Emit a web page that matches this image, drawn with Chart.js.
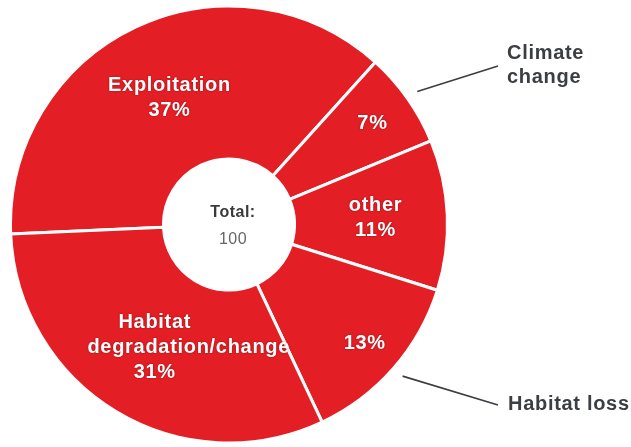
<!DOCTYPE html>
<html>
<head>
<meta charset="utf-8">
<script src="https://cdn.jsdelivr.net/npm/chart.js@4"></script>
<style>
  html, body { margin: 0; padding: 0; background: #fff; }
  #wrap { width: 631px; height: 447px; }
</style>
</head>
<body>
<div id="wrap"><canvas id="threatsChart"></canvas></div>
<script>
// Threat shares (percent)
const categories = ['Exploitation', 'Climate change', 'other', 'Habitat loss', 'Habitat degradation/change'];
const shares = [37, 7, 11, 13, 31];
const totalLabel = 'Total:';
const totalValue = 100;

// names written inside the slices (the percent line gets added below them)
const insideNames = [['Exploitation'], [], ['other'], [], ['Habitat', 'degradation/change']];
// names written outside, with a pointer line
const outsideNames = { 1: ['Climate', 'change'], 3: ['Habitat loss'] };

const RED = '#e41e25';
const DARK = '#3b3e42';
const LABEL_FONT = 'bold 20px "Liberation Sans", Arial, sans-serif';

// where the inside label sits between inner and outer radius (0..1)
const ringPos = [0.485, 0.72, 0.53, 0.75, 0.51];
// small sideways nudges for single lines of a label
const lineNudge = { 4: [0, 34, 0] };
// where the outside labels go
const calloutSpots = {
    1: { lineEnd: [498, 66], textX: 507, textY: [53, 77] },
    3: { lineEnd: [498, 405], textX: 508, textY: [404] }
};

const sliceLabels = {
    id: 'sliceLabels',
    afterDatasetsDraw(chart) {
        const ctx = chart.ctx;
        const arcs = chart.getDatasetMeta(0).data;
        ctx.save();
        ctx.textBaseline = 'middle';
        ctx.letterSpacing = '0.7px';
        ctx.font = LABEL_FONT;

        arcs.forEach((arc, i) => {
            const p = arc.getProps(['x', 'y', 'startAngle', 'endAngle', 'innerRadius', 'outerRadius'], true);
            const mid = (p.startAngle + p.endAngle) / 2;

            // inside text
            const r = p.innerRadius + (p.outerRadius - p.innerRadius) * ringPos[i];
            const lx = p.x + Math.cos(mid) * r;
            const ly = p.y + Math.sin(mid) * r;
            const lines = insideNames[i].concat([shares[i] + '%']);
            const lh = 25;
            ctx.textAlign = 'center';
            ctx.fillStyle = '#fff';
            ctx.shadowColor = 'rgba(60,0,0,0.5)';
            ctx.shadowBlur = 2;
            lines.forEach((t, k) => {
                const nudge = lineNudge[i] ? lineNudge[i][k] : 0;
                ctx.fillText(t, lx + nudge, ly + (k - (lines.length - 1) / 2) * lh);
            });
            ctx.shadowBlur = 0;
            ctx.shadowColor = 'transparent';

            // outside text + pointer
            const spot = calloutSpots[i];
            if (spot) {
                const sr = p.outerRadius + 12;
                ctx.beginPath();
                ctx.moveTo(p.x + Math.cos(mid) * sr, p.y + Math.sin(mid) * sr);
                ctx.lineTo(spot.lineEnd[0], spot.lineEnd[1]);
                ctx.strokeStyle = DARK;
                ctx.lineWidth = 1.6;
                ctx.stroke();
                ctx.textAlign = 'left';
                ctx.fillStyle = DARK;
                outsideNames[i].forEach((t, k) => ctx.fillText(t, spot.textX, spot.textY[k]));
            }
        });

        // total in the hole
        const c = arcs[0];
        ctx.textAlign = 'center';
        ctx.letterSpacing = '0.5px';
        ctx.fillStyle = '#3a3a3a';
        ctx.font = 'bold 16px "Liberation Sans", Arial, sans-serif';
        ctx.fillText(totalLabel, c.x + 4, c.y - 12);
        ctx.fillStyle = '#666';
        ctx.font = '16px "Liberation Sans", Arial, sans-serif';
        ctx.fillText(String(totalValue), c.x + 4, c.y + 15);
        ctx.restore();
    }
};

new Chart(document.getElementById('threatsChart'), {
    type: 'doughnut',
    data: {
        labels: categories,
        datasets: [{
            data: shares,
            backgroundColor: RED,
            borderColor: '#fff',
            borderWidth: 3
        }]
    },
    options: {
        responsive: true,
        maintainAspectRatio: false,
        animation: false,
        rotation: -92.5,
        cutout: '30%',
        layout: { padding: { left: 9, right: 182, top: 4, bottom: 2 } },
        plugins: {
            legend: { display: false },
            tooltip: { enabled: false }
        }
    },
    plugins: [sliceLabels]
});
</script>
</body>
</html>
